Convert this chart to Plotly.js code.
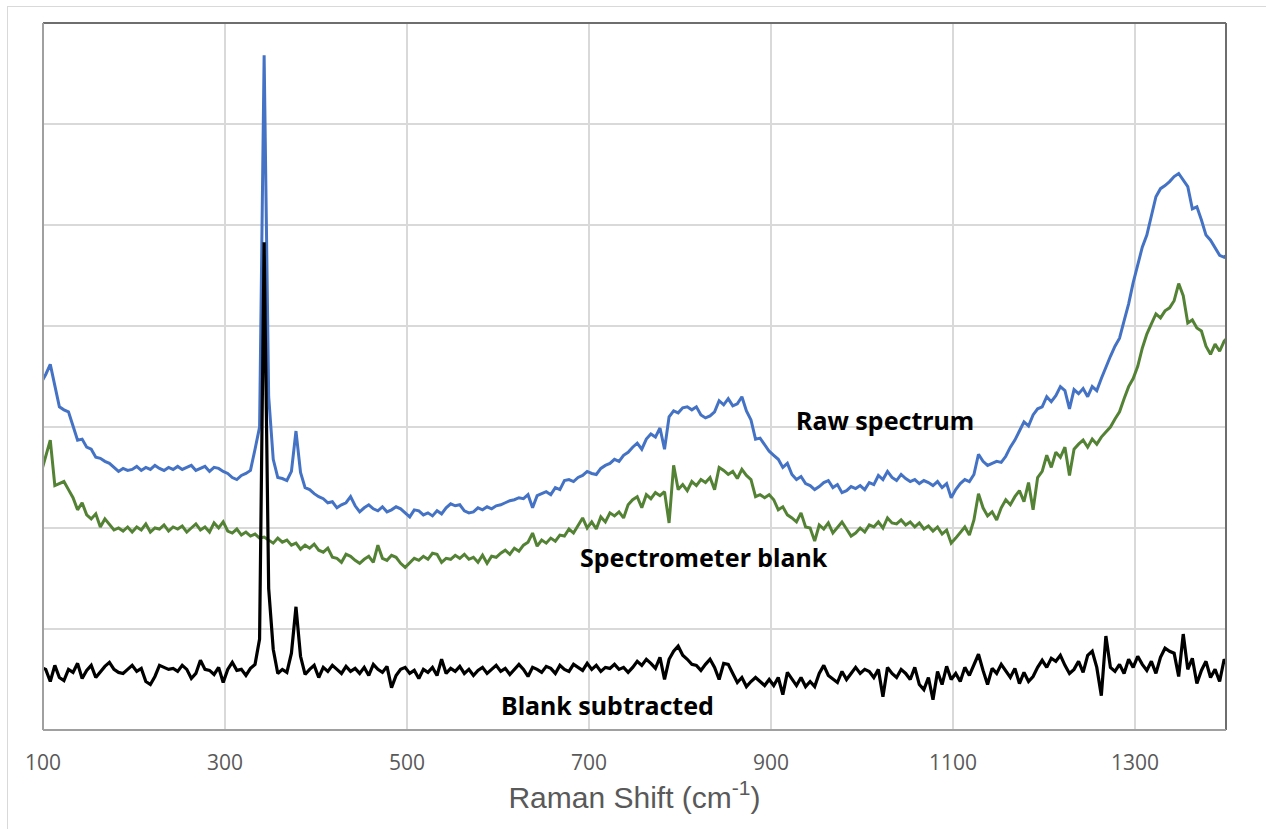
<!DOCTYPE html>
<html>
<head>
<meta charset="utf-8">
<script src="https://cdn.plot.ly/plotly-3.0.1.min.js"></script>
<style>
  html, body { margin: 0; padding: 0; background: #fff; overflow: hidden; }
  #wrap { position: relative; width: 1266px; height: 829px; }
  #chart { position: absolute; left: 0; top: 0; width: 1266px; height: 829px; }
  #frame { position: absolute; left: 7px; top: 6px; width: 1400px; height: 900px;
           border: 1.5px solid #d9d9d9; pointer-events: none; }
</style>
</head>
<body>
<div id="wrap">
  <div id="chart"></div>
  <div id="frame"></div>
</div>
<script>
// Sampling grid (Raman shift, cm-1): 98, 103, ... 1403
const ramanShift = [];
for (let k = 0; k < 262; k++) ramanShift.push(98 + 5 * k);

// Raw spectrum (blue)
const rawSpectrum = [
  3440, 3520, 3620, 3420, 3200, 3170, 3150, 3010, 2870, 2880,
  2800, 2780, 2700, 2690, 2660, 2640, 2600, 2560, 2590, 2570,
  2580, 2610, 2570, 2600, 2580, 2620, 2590, 2570, 2600, 2580,
  2610, 2580, 2600, 2620, 2570, 2590, 2610, 2560, 2600, 2590,
  2560, 2540, 2500, 2480, 2520, 2540, 2570, 2780, 3000, 6680,
  3300, 2680, 2500, 2490, 2470, 2560, 2960, 2550, 2400, 2380,
  2340, 2310, 2290, 2250, 2260, 2200, 2230, 2250, 2310, 2220,
  2160, 2200, 2230, 2190, 2170, 2210, 2160, 2180, 2210, 2190,
  2150, 2110, 2180, 2170, 2130, 2150, 2120, 2170, 2140, 2200,
  2240, 2220, 2230, 2170, 2150, 2160, 2200, 2180, 2210, 2190,
  2220, 2230, 2250, 2270, 2280, 2300, 2290, 2330, 2200, 2320,
  2340, 2360, 2330, 2400, 2380, 2470, 2480, 2460, 2500, 2520,
  2560, 2540, 2530, 2590, 2620, 2640, 2680, 2660, 2720, 2750,
  2800, 2840, 2780, 2880, 2930, 2900, 2990, 2780, 3100, 3160,
  3140, 3190, 3200, 3170, 3200, 3120, 3090, 3110, 3150, 3260,
  3220, 3280, 3210, 3230, 3300, 3160, 3070, 2880, 2890, 2820,
  2760, 2720, 2680, 2600, 2640, 2530, 2480, 2510, 2440, 2420,
  2380, 2410, 2450, 2470, 2400, 2430, 2350, 2370, 2410, 2390,
  2420, 2380, 2450, 2430, 2520, 2480, 2560, 2500, 2470, 2530,
  2490, 2460, 2480, 2440, 2470, 2450, 2420, 2460, 2400, 2440,
  2300, 2380, 2440, 2480, 2460, 2530, 2730, 2660, 2620, 2640,
  2660, 2650, 2710, 2800, 2870, 2960, 3050, 3010, 3120, 3180,
  3200, 3300, 3250, 3310, 3400, 3360, 3180, 3370, 3330, 3380,
  3300, 3400, 3360, 3480, 3600, 3700, 3800, 3880, 4050, 4220,
  4430, 4620, 4780, 4900, 5100, 5280, 5360, 5390, 5430, 5480,
  5510, 5440, 5380, 5160, 5180, 5050, 4900, 4850, 4780, 4700,
  4680, 4720
];

// Spectrometer blank (green)
const spectrometerBlank = [
  2550, 2700, 2870, 2420, 2440, 2460, 2380, 2300, 2180, 2250,
  2130, 2090, 2140, 2010, 2090, 2030, 1980, 2000, 1970, 2010,
  1960, 2010, 1980, 2040, 1960, 2000, 1990, 2030, 1970, 2010,
  1990, 2020, 1960, 2000, 2040, 1980, 2010, 1960, 2050, 2000,
  2060, 1970, 1950, 1990, 1930, 1960, 1920, 1940, 1900, 1910,
  1880, 1850, 1900, 1860, 1880, 1830, 1850, 1790, 1830, 1800,
  1840, 1780, 1760, 1800, 1710, 1700, 1660, 1740, 1720, 1680,
  1650, 1690, 1720, 1660, 1830, 1700, 1680, 1730, 1710, 1650,
  1610, 1660, 1700, 1680, 1720, 1690, 1750, 1740, 1660, 1700,
  1690, 1730, 1700, 1740, 1690, 1710, 1660, 1730, 1650, 1720,
  1710, 1750, 1780, 1740, 1800, 1770, 1830, 1860, 1950, 1820,
  1880, 1850, 1900, 1870, 1930, 1920, 1990, 1950, 2030, 2100,
  2000, 2060, 1990, 2110, 2060, 2150, 2120, 2160, 2100, 2230,
  2280, 2310, 2200, 2330, 2290, 2350, 2320, 2360, 2050, 2620,
  2380, 2430, 2370, 2460, 2420, 2480, 2450, 2500, 2380, 2600,
  2570, 2530, 2560, 2490, 2580, 2520, 2480, 2310, 2330, 2300,
  2330, 2280, 2180, 2210, 2130, 2100, 2060, 2150, 2010, 2000,
  1870, 2030, 1990, 2050, 1950, 2010, 2060, 1990, 1920, 1950,
  2000, 1960, 2030, 2010, 2060, 2000, 2100, 2050, 2040, 2080,
  2030, 2060, 2010, 2050, 1990, 2020, 1970, 2010, 1940, 1980,
  1850, 1900, 1960, 2010, 1930, 2080, 2340, 2200, 2120, 2160,
  2080, 2200, 2280, 2230, 2310, 2370, 2260, 2450, 2180, 2500,
  2560, 2720, 2600, 2750, 2700, 2800, 2520, 2780, 2830, 2870,
  2800, 2880, 2830, 2900, 2950, 3000, 3080, 3150, 3280, 3400,
  3480, 3600, 3780, 3920, 4020, 4120, 4080, 4150, 4180, 4250,
  4420, 4300, 4030, 4060, 3980, 3950, 3800, 3720, 3820, 3750,
  3850, 3900
];

// Blank subtracted (black)
const blankSubtracted = [
  620, 600, 480, 640, 520, 490, 600, 570, 660, 510,
  590, 640, 520, 580, 630, 670, 600, 570, 560, 600,
  640, 580, 610, 480, 450, 530, 640, 620, 600, 610,
  580, 640, 600, 510, 560, 690, 600, 590, 550, 620,
  470, 600, 670, 590, 600, 540, 610, 650, 900, 4830,
  1400, 800, 560, 600, 570, 760, 1220, 730, 550, 600,
  640, 520, 620, 580, 640, 600, 560, 630, 580, 610,
  560, 620, 540, 650, 600, 570, 630, 420, 540, 600,
  620, 560, 590, 510, 600, 570, 620, 540, 700, 560,
  610, 580, 630, 560, 600, 540, 590, 620, 560, 600,
  640, 580, 610, 550, 600, 650, 600, 530, 620, 600,
  570, 630, 610, 560, 640, 600, 580, 650, 620, 590,
  660, 600, 640, 580, 620, 610, 650, 600, 620, 570,
  620, 680, 640, 700, 660, 610, 720, 500, 700, 780,
  830, 740, 700, 650, 640, 590, 650, 700, 620, 500,
  660, 650, 560, 470, 520, 430, 480, 520, 480, 440,
  500, 440, 520, 350, 570, 500, 440, 520, 430, 480,
  430, 560, 640, 540, 500, 470, 580, 500, 560, 620,
  560, 600, 580, 520, 600, 330, 620, 560, 520, 600,
  560, 500, 620, 450, 400, 520, 300, 580, 450, 630,
  500, 560, 480, 620, 540, 650, 750, 590, 450, 610,
  560, 650, 590, 520, 610, 460, 570, 480, 530, 620,
  690, 620, 710, 680, 740, 640, 560, 600, 680, 570,
  740, 780, 620, 340, 930, 620, 580, 650, 560, 700,
  620, 730, 650, 590, 680, 560, 720, 810, 780, 760,
  530, 950, 600, 710, 460, 590, 680, 520, 600, 480,
  700, 620
];

// Axis ticks
const xTickValues = [100, 300, 500, 700, 900, 1100, 1300];
const xTickLabels = ["100", "300", "500", "700", "900", "1100", "1300"];

// Series labels (text, x position in cm-1, y position in counts)
const seriesLabels = ["Raw spectrum", "Spectrometer blank", "Blank subtracted"];
const labelX = [1025, 826, 720];
const labelY = [3070, 1710, 250];

const traces = [
  { x: ramanShift, y: rawSpectrum, type: 'scatter', mode: 'lines', name: 'Raw spectrum',
    line: { color: '#4472C4', width: 3 } },
  { x: ramanShift, y: spectrometerBlank, type: 'scatter', mode: 'lines', name: 'Spectrometer blank',
    line: { color: '#548235', width: 3 } },
  { x: ramanShift, y: blankSubtracted, type: 'scatter', mode: 'lines', name: 'Blank subtracted',
    line: { color: '#000000', width: 3.2 } }
];

const annotations = seriesLabels.map((t, i) => ({
  x: labelX[i], y: labelY[i], xref: 'x', yref: 'y', text: '<b>' + t + '</b>',
  showarrow: false, xanchor: 'center', yanchor: 'middle',
  font: { family: '"Noto Sans", "Open Sans", sans-serif', size: 25, color: '#000000' }
}));

const layout = {
  width: 1266, height: 829,
  margin: { l: 43, r: 40, t: 23, b: 99 },
  paper_bgcolor: 'rgba(0,0,0,0)', plot_bgcolor: '#ffffff',
  showlegend: false,
  xaxis: {
    range: [100, 1400], tickmode: 'array', tickvals: xTickValues, ticktext: xTickLabels,
    showgrid: true, gridcolor: '#d9d9d9', gridwidth: 1.3, zeroline: false,
    showline: false, ticks: '', ticklabelstandoff: 18,
    tickfont: { family: '"Open Sans", sans-serif', size: 21, color: '#595959' },
    title: { text: 'Raman Shift (cm<sup>-1</sup>)', standoff: 11,
             font: { family: '"Liberation Sans", Arial, sans-serif', size: 30, color: '#595959' } }
  },
  yaxis: {
    range: [0, 7000], dtick: 1000, showticklabels: false, ticks: '',
    showgrid: true, gridcolor: '#d9d9d9', gridwidth: 1.3, zeroline: false, showline: false
  },
  annotations: annotations,
  shapes: [
    { type: 'line', xref: 'paper', yref: 'paper', x0: 0, x1: 1, y0: 1, y1: 1, line: { color: '#6e6e6e', width: 2 } },
    { type: 'line', xref: 'paper', yref: 'paper', x0: 1, x1: 1, y0: 0, y1: 1, line: { color: '#6e6e6e', width: 2 } },
    { type: 'line', xref: 'paper', yref: 'paper', x0: 0, x1: 0, y0: 0, y1: 1, line: { color: '#a0a0a0', width: 2 } },
    { type: 'line', xref: 'paper', yref: 'paper', x0: 0, x1: 1, y0: 0, y1: 0, line: { color: '#a0a0a0', width: 2 } }
  ]
};

Plotly.newPlot('chart', traces, layout, { displayModeBar: false, staticPlot: true });
</script>
</body>
</html>
